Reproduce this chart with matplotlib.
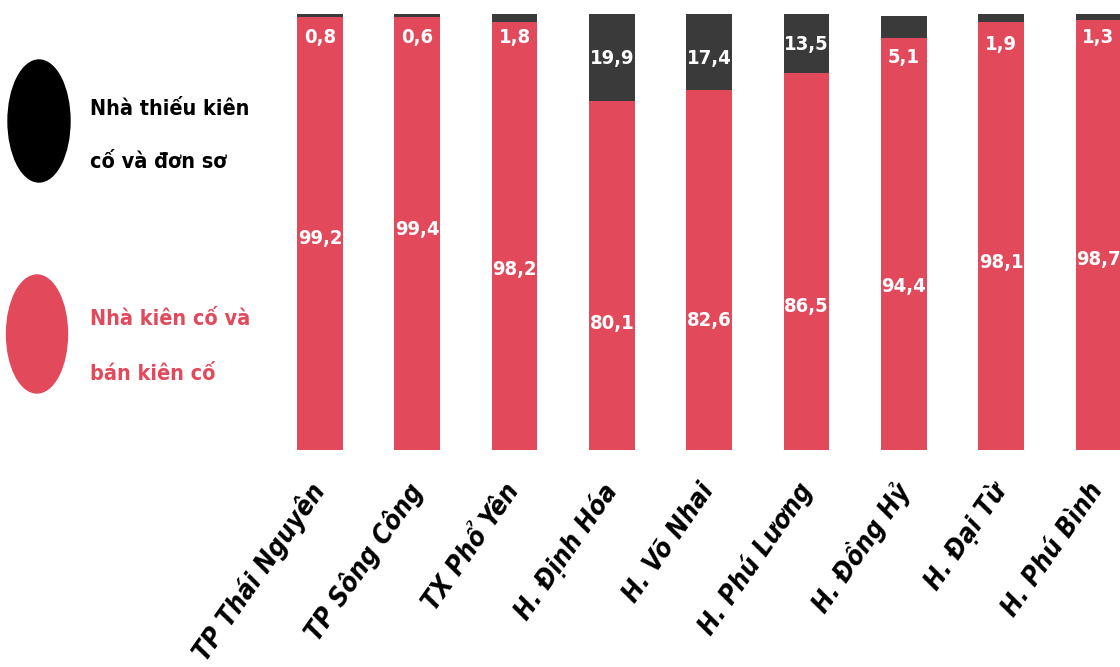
import matplotlib
matplotlib.use("Agg")
import matplotlib.pyplot as plt
from matplotlib.patches import Ellipse

# data
districts = ["TP Thái Nguyên", "TP Sông Công", "TX Phổ Yên", "H. Định Hóa",
             "H. Võ Nhai", "H. Phú Lương", "H. Đồng Hỷ", "H. Đại Từ", "H. Phú Bình"]
kien_co = [99.2, 99.4, 98.2, 80.1, 82.6, 86.5, 94.4, 98.1, 98.7]
thieu_kien_co = [0.8, 0.6, 1.8, 19.9, 17.4, 13.5, 5.1, 1.9, 1.3]

# where the numbers sit inside the bars (layout only)
red_label_y = [48.6, 50.5, 41.3, 29.1, 29.8, 32.8, 37.4, 42.9, 43.6]
dark_label_y = [94.7, 94.7, 94.7, 89.9, 89.9, 92.9, 90.1, 92.9, 94.7]

RED = "#e24a5c"
DARK = "#3a3a3a"
FONT = ["DejaVu Sans"]

W, H = 1120, 667
fig = plt.figure(figsize=(W / 100, H / 100), dpi=100)
fig.patch.set_facecolor("white")

ax = fig.add_axes([0, 1 - 450 / H, 1, 436 / H])
step = 97.3
ax.set_xlim(-320 / step, (W - 320) / step)
ax.set_ylim(0, 100)

x = list(range(len(districts)))
ax.bar(x, kien_co, width=0.47, color=RED)
ax.bar(x, thieu_kien_co, bottom=kien_co, width=0.47, color=DARK)

num_kw = dict(ha="center", va="center", color="white", fontsize=14.5,
              fontweight="bold", fontstretch="condensed", family=FONT)
for i in x:
    ax.text(i, red_label_y[i], f"{kien_co[i]:.1f}".replace(".", ","), **num_kw)
    ax.text(i, dark_label_y[i], f"{thieu_kien_co[i]:.1f}".replace(".", ","), **num_kw)

for s in ax.spines.values():
    s.set_visible(False)
ax.set_yticks([])
ax.set_xticks(x)
ax.set_xticklabels(districts, rotation=55, ha="right", va="center",
                   rotation_mode="anchor", fontsize=19, fontweight="bold",
                   fontstyle="italic", fontstretch="condensed", family=FONT)
ax.tick_params(axis="x", length=0, pad=26)

# legend drawn by hand: big dots + two-line labels
fig.add_artist(Ellipse((39 / W, 1 - 121 / H), 62 / W, 122 / H,
                       transform=fig.transFigure, color="black"))
fig.add_artist(Ellipse((37 / W, 1 - 334 / H), 61 / W, 118 / H,
                       transform=fig.transFigure, color=RED))

leg_kw = dict(fontsize=15.5, fontweight="bold", fontstretch="condensed",
              family=FONT, va="baseline", ha="left")
fig.text(90 / W, 1 - 115 / H, "Nhà thiếu kiên", color="black", **leg_kw)
fig.text(90 / W, 1 - 168 / H, "cố và đơn sơ", color="black", **leg_kw)
fig.text(90 / W, 1 - 325 / H, "Nhà kiên cố và", color=RED, **leg_kw)
fig.text(90 / W, 1 - 380 / H, "bán kiên cố", color=RED, **leg_kw)

plt.savefig("out.png", dpi=100)
